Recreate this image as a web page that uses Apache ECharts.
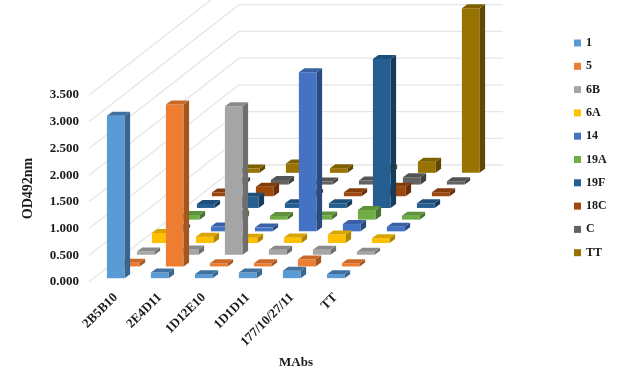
<!DOCTYPE html>
<html><head><meta charset="utf-8">
<style>html,body{margin:0;padding:0;background:#fff}#c{width:624px;height:374px}</style>
<script src="https://cdn.jsdelivr.net/npm/echarts@6/dist/echarts.min.js"></script>
</head><body><div id="c"></div>
<script>
const categories = ['2B5B10','2E4D11','1D12E10','1D1D11','177/10/27/11','TT'];
const serotypes = ['1','5','6B','6A','14','19A','19F','18C','C','TT'];
const yTicks = [0,0.5,1,1.5,2,2.5,3,3.5];
const s1   = [3.04,0.105,0.075,0.105,0.137,0.075];
const s5   = [0.07,3.03,0.06,0.06,0.13,0.06];
const s6B  = [0.06,0.10,2.78,0.094,0.094,0.056];
const s6A  = [0.19,0.12,0.10,0.106,0.16,0.09];
const s14  = [0.06,0.09,0.07,2.98,0.137,0.087];
const s19A = [0.087,0.10,0.07,0.08,0.18,0.075];
const s19F = [0.075,0.21,0.087,0.087,2.79,0.087];
const s18C = [0.07,0.18,0.06,0.075,0.18,0.075];
const sC   = [0.06,0.087,0.056,0.075,0.137,0.062];
const sTT  = [0.08,0.175,0.087,0.08,0.21,3.08];
const seriesValues = [s1,s5,s6B,s6A,s14,s19A,s19F,s18C,sC,sTT];
const frontColors = ['#5b9bd5','#ed7d31','#a5a5a5','#ffc000','#4472c4','#70ad47','#255e91','#9e480e','#636363','#997300'];
const sideColors  = ['#386690','#a3561f','#6e6e6e','#b08600','#2a4a82','#4a7530','#163c5d','#6a2f08','#3f3f3f','#604800'];
const topColors   = ['#3f72a0','#c96a28','#8a8a8a','#d9a300','#3a60a5','#5e933c','#1e4f7b','#843c0c','#545454','#7f6000'];

const STEP_X = 15, STEP_Y = 11.7, BAR_DX = 5.5, BAR_DY = 4, BAR_RATIO = 0.402;
const serif = '"Liberation Serif","Times New Roman",serif';
const textColor = '#1a1a1a';

function poly(points, fill){
  return {type:'polygon', shape:{points}, style:{fill}};
}
function wallRender(params, api){
  const p = api.coord([0, api.value(1)]);
  const band = api.size([1,0])[0];
  const x0 = p[0]-band/2, y0 = p[1];
  const dx = STEP_X*serotypes.length, dy = STEP_Y*serotypes.length;
  const x2 = x0+dx+band*categories.length;
  return {type:'polyline', shape:{points:[[x0,y0],[x0+dx,y0-dy],[x2,y0-dy]]},
    style:{fill:'none', stroke:'#e6e6e6', lineWidth:1.3}};
}
function barRender(k){
  return function(params, api){
    const base = api.coord([api.value(0), 0]);
    const top  = api.coord([api.value(0), api.value(1)]);
    const w = api.size([1,0])[0]*BAR_RATIO;
    const ox = STEP_X*k + (STEP_X-BAR_DX)/2 - w/2;
    const oy = -STEP_Y*k - (STEP_Y-BAR_DY)/2;
    const l = base[0]+ox, r = l+w, b = base[1]+oy, t = top[1]+oy;
    return {type:'group', children:[
      poly([[l,t],[r,t],[r,b],[l,b]], frontColors[k]),
      poly([[r,t],[r+BAR_DX,t-BAR_DY],[r+BAR_DX,b-BAR_DY],[r,b]], sideColors[k]),
      poly([[l,t],[l+BAR_DX,t-BAR_DY],[r+BAR_DX,t-BAR_DY],[r,t]], topColors[k])
    ]};
  };
}
const barSeries = serotypes.map((name,k)=>({
  type:'custom', name, z:30-k, clip:false,
  coordinateSystem:'cartesian2d',
  itemStyle:{color:frontColors[k]},
  renderItem:barRender(k),
  encode:{x:0,y:1},
  data:seriesValues[k].map((v,i)=>[i,v])
}));
const wallSeries = {
  type:'custom', name:'walls', z:1, clip:false, silent:true,
  coordinateSystem:'cartesian2d', renderItem:wallRender,
  encode:{x:0,y:1},
  data:yTicks.map(v=>[0,v])
};
const chart = echarts.init(document.getElementById('c'), null, {renderer:'canvas'});
chart.setOption({
  animation:false,
  backgroundColor:'#fff',
  grid:{left:89, top:95, width:264, height:187, containLabel:false},
  legend:{
    orient:'vertical', left:574, top:37, padding:0, icon:'rect',
    itemWidth:7, itemHeight:7, itemGap:11.3,
    data:serotypes, selectedMode:false,
    textStyle:{fontFamily:serif, fontWeight:'bold', fontSize:12, color:textColor}
  },
  xAxis:{
    type:'category', data:categories,
    axisLine:{show:false}, axisTick:{show:false}, splitLine:{show:false},
    axisLabel:{rotate:45, interval:0, margin:9, verticalAlign:'top', fontFamily:serif, fontWeight:'bold', fontSize:13, color:textColor},
    name:'MAbs', nameLocation:'middle', nameGap:74,
    nameTextStyle:{fontFamily:serif, fontWeight:'bold', fontSize:13, color:textColor, padding:[0,0,0,150]}
  },
  yAxis:{
    type:'value', min:0, max:3.5, interval:0.5,
    axisLine:{show:false}, axisTick:{show:false}, splitLine:{show:false},
    axisLabel:{margin:10, fontFamily:serif, fontWeight:'bold', fontSize:13, color:textColor,
      padding:[0,0,3,0], formatter:v=>v.toFixed(3)},
    name:'OD492nm', nameLocation:'middle', nameGap:54,
    nameTextStyle:{fontFamily:serif, fontWeight:'bold', fontSize:14, color:textColor}
  },
  series:[wallSeries].concat(barSeries)
});
</script></body></html>
